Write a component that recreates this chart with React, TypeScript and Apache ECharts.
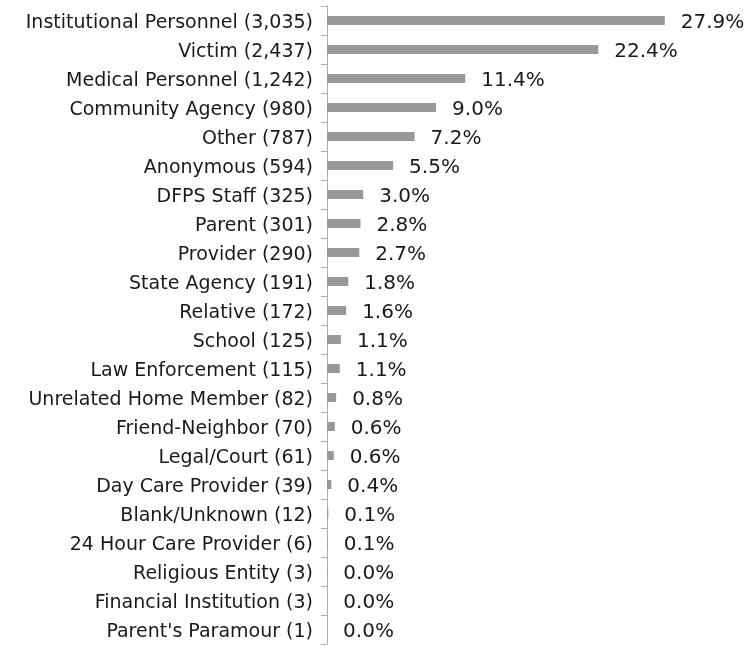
import React, { useEffect, useRef } from "react";
import * as echarts from "echarts";

const categories = [
  "Institutional Personnel",
  "Victim",
  "Medical Personnel",
  "Community Agency",
  "Other",
  "Anonymous",
  "DFPS Staff",
  "Parent",
  "Provider",
  "State Agency",
  "Relative",
  "School",
  "Law Enforcement",
  "Unrelated Home Member",
  "Friend-Neighbor",
  "Legal/Court",
  "Day Care Provider",
  "Blank/Unknown",
  "24 Hour Care Provider",
  "Religious Entity",
  "Financial Institution",
  "Parent's Paramour",
];
const counts = [3035, 2437, 1242, 980, 787, 594, 325, 301, 290, 191, 172, 125, 115, 82, 70, 61, 39, 12, 6, 3, 3, 1];
const percents = [27.9, 22.4, 11.4, 9.0, 7.2, 5.5, 3.0, 2.8, 2.7, 1.8, 1.6, 1.1, 1.1, 0.8, 0.6, 0.6, 0.4, 0.1, 0.1, 0.0, 0.0, 0.0];

export default function App() {
  const ref = useRef<HTMLDivElement>(null);
  useEffect(() => {
    if (!ref.current) return;
    const chart = echarts.init(ref.current, undefined, { renderer: "svg" });
    const total = counts.reduce((a, b) => a + b, 0);
    const labels = categories.map((c, i) => `${c} (${counts[i].toLocaleString("en-US")})`);
    chart.setOption({
      animation: false,
      grid: { left: 327, top: 6, width: 363, height: 638, containLabel: false },
      xAxis: {
        type: "value",
        min: 0,
        max: 30,
        show: false,
      },
      yAxis: {
        type: "category",
        data: labels,
        inverse: true,
        axisLine: { show: true, lineStyle: { color: "#b0b0b0", width: 1 } },
        axisTick: { show: true, length: 6, lineStyle: { color: "#b0b0b0" } },
        axisLabel: {
          color: "#1a1a1a",
          fontSize: 19,
          fontFamily: "DejaVu Sans",
          margin: 14,
        },
      },
      series: [
        {
          type: "bar",
          data: counts.map((c) => (c / total) * 100),
          barWidth: 9,
          itemStyle: { color: "#989898" },
          label: {
            show: true,
            position: "right",
            distance: 16,
            color: "#1a1a1a",
            fontSize: 20,
            fontFamily: "DejaVu Sans",
            formatter: (p: any) => percents[p.dataIndex].toFixed(1) + "%",
          },
        },
      ],
    });
    return () => chart.dispose();
  }, []);
  return (
    <div
      ref={ref}
      style={{ position: "fixed", left: 0, top: 0, width: 748, height: 649 }}
    />
  );
}
